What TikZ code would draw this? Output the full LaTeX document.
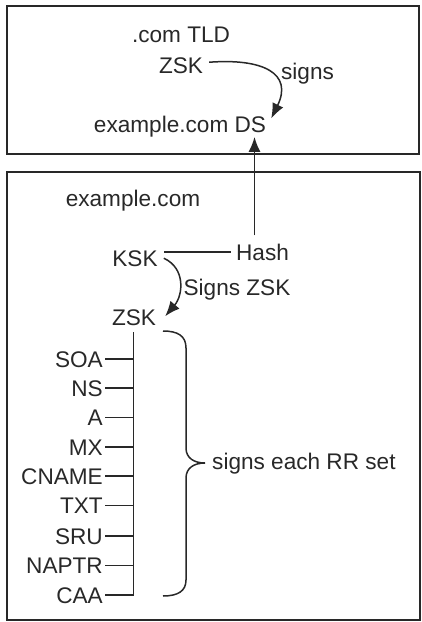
\documentclass[tikz,border=0pt]{standalone}
\usepackage{fontspec}
\setmainfont{Liberation Sans}
\usetikzlibrary{arrows.meta,calc}
\definecolor{ink}{RGB}{40,40,40}
\begin{document}
\begin{tikzpicture}[x=1pt,y=-1pt,
  lbl/.style={inner sep=0pt,text=ink,font=\fontsize{22.6}{27}\selectfont},
  rec/.style={lbl,anchor=base east},
  frame/.style={draw=ink,line width=1.7pt},
  conn/.style={draw=ink,line width=1.5pt},
  arr/.style={conn,-{Latex[length=15pt,width=12pt]}}]
\useasboundingbox (0,0) rectangle (421,622);
% boxes
\draw[frame] (7,6) rectangle (419,154);
\draw[frame] (7,172) rectangle (420,620);
% top box text
\node[lbl,anchor=base] (tld) at (181,42) {.com TLD};
\node[lbl,anchor=base] (zskT) at (181,73) {ZSK};
\node[lbl,anchor=base] (signsT) at (307.5,79) {signs};
\node[lbl,anchor=base] (ds) at (180,132) {example.com DS};
% bottom box text
\node[lbl,anchor=base] (excom) at (133,206) {example.com};
\node[lbl,anchor=base] (ksk) at (135,266) {KSK};
\node[lbl,anchor=base] (hash) at (262.5,260) {Hash};
\node[lbl,anchor=base] (signsZ) at (237,295) {Signs ZSK};
\node[lbl,anchor=base] (zskB) at (134,325) {ZSK};
% records
\node[rec] (soa) at (103,367) {SOA};
\node[rec] (ns) at (103,396) {NS};
\node[rec] (a) at (103,425.5) {A};
\node[rec] (mx) at (103,455) {MX};
\node[rec] (cname) at (103,484) {CNAME};
\node[rec] (txt) at (103,513.5) {TXT};
\node[rec] (sru) at (103,544) {SRU};
\node[rec] (naptr) at (103,573.5) {NAPTR};
\node[rec] (caa) at (103,603) {CAA};
\node[lbl,anchor=base west] (each) at (212,469) {signs each RR set};
% connectors
\draw[arr] ($(zskT.east)+(6,-3)$) .. controls +(54,-4) and +(22,-45) .. ($(ds.north east)+(5,3)$);
\draw[arr] ($(hash.north)+(-8,-8)$) -- ($(hash.north |- ds.south)+(-8,0)$);
\draw[conn] ($(hash.west)+(-5,0)$) -- ($(ksk.east |- hash.west)+(6,0)$);
\draw[arr] ($(ksk.east)+(6,0)$) .. controls +(22,10) and +(18,-21) .. ($(zskB.east)+(9,-1)$);
\coordinate (vtop) at ($(zskB.south)+(-0.5,7)$);
\coordinate (vbot) at (vtop |- caa.east);
\draw[conn] (vtop) -- (vbot);
\foreach \r in {soa,ns,a,mx,cname,txt,sru,naptr,caa}
  \draw[conn] ($(\r.east)+(2,0)$) -- (\r.east -| vtop);
% brace
\draw[conn] (163,331) .. controls (178,331) and (186,336) .. (186,348) -- (186,448)
  .. controls (186,458) and (194,463) .. (205,463)
  .. controls (194,463) and (186,468) .. (186,478) -- (186,580)
  .. controls (186,591) and (178,596) .. (163,596);
\end{tikzpicture}
\end{document}
